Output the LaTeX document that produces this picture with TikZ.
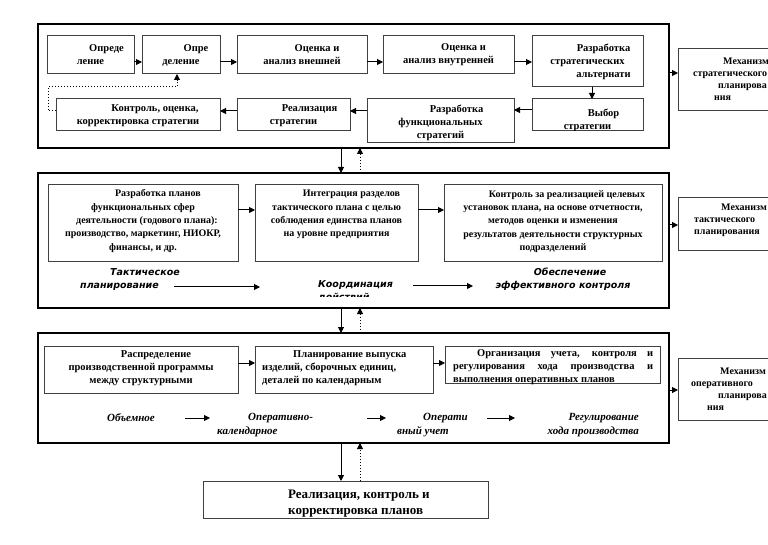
\documentclass[tikz,border=0pt]{standalone}
\usepackage{fontspec}
\setmainfont{Liberation Serif}
\newfontfamily\lsans{DejaVu Sans}
\usetikzlibrary{arrows.meta}
\begin{document}
\begin{tikzpicture}[x=1pt,y=-1pt,
  bx/.style n args={4}{draw=black!75, line width=1pt, inner sep=0pt, outer sep=0pt,
     at={({(#1+#3)/2},{(#2+#4)/2})}, minimum width={(#3-#1)*1pt}, minimum height={(#4-#2)*1pt}},
  fr/.style n args={4}{bx={#1}{#2}{#3}{#4}, draw=black, line width=2pt},
  ta/.style={font=\bfseries\fontsize{10.5}{13}\selectfont, align=center, inner sep=0pt},
  tb/.style={font=\bfseries\fontsize{10}{13.3}\selectfont, align=center, inner sep=0pt},
  tm/.style={font=\bfseries\fontsize{10}{12}\selectfont, align=left, inner sep=0pt, anchor=west},
  ls/.style={font=\lsans\bfseries\itshape\fontsize{9.5}{12.5}\selectfont, inner sep=0pt},
  li/.style={font=\bfseries\itshape\fontsize{11}{14}\selectfont, inner sep=0pt},
  arr/.style={-{Triangle[length=6pt,width=6pt]}, line width=1pt},
  dotarr/.style={arr, dotted}
]
\fill[white] (0,0) rectangle (768,545);
\useasboundingbox (0,0) rectangle (768,545);

% frames
\node[fr={38}{24}{669}{148}] (f1) {};
\node[fr={38}{173}{669}{308}] (f2) {};
\node[fr={38}{333}{669}{443}] (f3) {};
\node[bx={203}{481}{488}{518}] (bb) {};

% frame 1 boxes
\node[bx={47}{36}{134}{74}] (A) {};
\node[bx={142}{36}{220}{74}] (B) {};
\node[bx={237}{36}{367}{74}] (C) {};
\node[bx={383}{36}{514}{74}] (D) {};
\node[bx={532}{36}{643}{87}] (E) {};
\node[bx={56}{99}{220}{131}] (K) {};
\node[bx={237}{99}{350}{131}] (R) {};
\node[bx={367}{99}{514}{143}] (RF) {};
\node[bx={532}{99}{643}{131}] (V) {};
% frame 2 boxes
\node[bx={48}{185}{238}{262}] (P1) {};
\node[bx={255}{185}{418}{262}] (P2) {};
\node[bx={444}{185}{662}{262}] (P3) {};
% frame 3 boxes
\node[bx={44}{346}{238}{393}] (Q1) {};
\node[bx={255}{346}{433}{393}] (Q2) {};
\node[bx={445}{346}{660}{383}] (Q3) {};
% mechanism boxes
\node[bx={678}{49}{800}{111}] (M1) {};
\node[bx={678}{198}{800}{251}] (M2) {};
\node[bx={678}{358}{800}{420}] (M3) {};

% texts frame 1
\node[ta] (tA) at (90.5,55) {\hspace*{32pt}Опреде\\ление};
\node[ta] (tB) at (181,55) {\hspace*{30pt}Опре\\деление};
\node[ta] (tC) at (302,55) {\hspace*{30pt}Оценка и\\анализ внешней};
\node[ta] (tD) at (448.5,55) {\hspace*{30pt}Оценка и\\анализ внутренней};
\node[ta] (tE) at (587.5,61.5) {\hspace*{32pt}Разработка\\стратегических\\\hspace*{32pt}альтернати};
\node[ta] (tK) at (138,116) {\hspace*{34pt}Контроль, оценка,\\корректировка стратегии};
\node[ta] (tR) at (293.5,116) {\hspace*{32pt}Реализация\\стратегии};
\node[ta] (tRF) at (440.5,123) {\hspace*{32pt}Разработка\\функциональных\\стратегий};
\begin{scope}
\clip (533,100) rectangle (642,130.5);
\node[ta] (tV) at (587.5,120.5) {\hspace*{32pt}Выбор\\стратегии};
\end{scope}

% texts frame 2
\node[tb] (tP1) at (143,221) {\hspace*{30pt}Разработка планов\\функциональных сфер\\\hspace*{8pt}деятельности (годового плана):\\производство, маркетинг, НИОКР,\\финансы, и др.};
\node[tb] (tP2) at (336.5,214.5) {\hspace*{30pt}Интеграция разделов\\тактического плана с целью\\соблюдения единства планов\\на уровне предприятия};
\node[tb] (tP3) at (553,221.5) {\hspace*{28pt}Контроль за реализацией целевых\\установок плана, на основе отчетности,\\методов оценки и изменения\\результатов деятельности структурных\\подразделений};

% texts frame 3
\node[ta] (tQ1) at (141,368) {\hspace*{30pt}Распределение\\производственной программы\\между структурными};
\node[ta, align=left, anchor=west] (tQ2) at (262,368) {\hspace*{31pt}Планирование выпуска\\изделий, сборочных  единиц,\\деталей по календарным};
\node[ta, align=left, anchor=west] (tQ3) at (453,367.5) {\hspace*{24pt}\makebox[176pt][s]{Организация учета, контроля и}\\\makebox[200pt][s]{регулирования хода производства и}\\выполнения оперативных планов};

% mechanism texts
\node[tm] (tM1) at (693,79) {\hspace*{30pt}Механизм\\стратегического\\\hspace*{25pt}планирова\\\hspace*{21pt}ния};
\node[tm] (tM2) at (694,220) {\hspace*{27pt}Механизм\\тактического\\планирования};
\node[tm] (tM3) at (691,389) {\hspace*{29pt}Механизм\\оперативного\\\hspace*{27pt}планирова\\\hspace*{16pt}ния};

% bottom box text
\begin{scope}
\clip (204,482) rectangle (487,517.5);
\node[font=\bfseries\fontsize{13}{16}\selectfont, align=left, anchor=west, inner sep=0pt] (tBB) at (288,504) {Реализация, контроль и\\корректировка планов};
\end{scope}

% frame 2 labels
\node[ls, align=left, anchor=west] (lT) at (80,279.5) {\hspace*{30pt}Тактическое\\планирование};
\begin{scope}
\clip (300,265) rectangle (430,296);
\node[ls, align=left, anchor=west] (lK) at (318,291) {Координация\\действий};
\end{scope}
\node[ls, align=center] (lO) at (563,279) {\hspace*{14pt}Обеспечение\\эффективного контроля};
\coordinate (a1s) at (174,287); \coordinate (a1e) at (260,287);
\coordinate (a2s) at (413,286); \coordinate (a2e) at (473,286);
\draw[arr] (a1s) -- (a1e);
\draw[arr] (a2s) -- (a2e);

% frame 3 labels
\node[li] (lV) at (131,418) {Объемное};
\node[li, align=left, anchor=west] (lOK) at (217,425) {\hspace*{31pt}Оперативно-\\календарное};
\node[li, align=left, anchor=west] (lOU) at (397,425) {\hspace*{26pt}Операти\\вный учет};
\node[li, align=right, anchor=east] (lRH) at (639,425) {Регулирование\\хода производства};
\coordinate (b1s) at (185,418); \coordinate (b1e) at (210,418);
\coordinate (b2s) at (367,418); \coordinate (b2e) at (386,418);
\coordinate (b3s) at (487,418); \coordinate (b3e) at (515,418);
\draw[arr] (b1s) -- (b1e);
\draw[arr] (b2s) -- (b2e);
\draw[arr] (b3s) -- (b3e);

% arrows frame 1
\draw[arr] (A.east |- 0,62) -- (B.west |- 0,62);
\draw[arr] (B.east |- 0,62) -- (C.west |- 0,62);
\draw[arr] (C.east |- 0,62) -- (D.west |- 0,62);
\draw[arr] (D.east |- 0,62) -- (E.west |- 0,62);
\draw[arr] (E.south -| 592,0) -- (V.north -| 592,0);
\draw[arr] (V.west |- 0,110) -- (RF.east |- 0,110);
\draw[arr] (RF.west |- 0,111) -- (R.east |- 0,111);
\draw[arr] (R.west |- 0,111) -- (K.east |- 0,111);
\draw[dotarr] (K.west |- 0,111) -- (48,111) -- (48,87) -- (177,87) -- (B.south -| 177,0);

% arrows frame 2 and 3
\draw[arr] (P1.east |- 0,210) -- (P2.west |- 0,210);
\draw[arr] (P2.east |- 0,210) -- (P3.west |- 0,210);
\draw[arr] (Q1.east |- 0,363) -- (Q2.west |- 0,363);
\draw[arr] (Q2.east |- 0,363) -- (Q3.west |- 0,363);

% to mechanisms
\draw[arr] (f1.east |- 0,73) -- (M1.west |- 0,73);
\draw[arr] (f2.east |- 0,225) -- (M2.west |- 0,225);
\draw[arr] (f3.east |- 0,390) -- (M3.west |- 0,390);

% between frames
\draw[arr] (f1.south -| 341,0) -- (f2.north -| 341,0);
\draw[dotarr] (f2.north -| 360,0) -- (f1.south -| 360,0);
\draw[arr] (f2.south -| 341,0) -- (f3.north -| 341,0);
\draw[dotarr] (f3.north -| 360,0) -- (f2.south -| 360,0);
\draw[arr] (f3.south -| 341,0) -- (bb.north -| 341,0);
\draw[dotarr] (bb.north -| 360,0) -- (f3.south -| 360,0);
\end{tikzpicture}
\end{document}
